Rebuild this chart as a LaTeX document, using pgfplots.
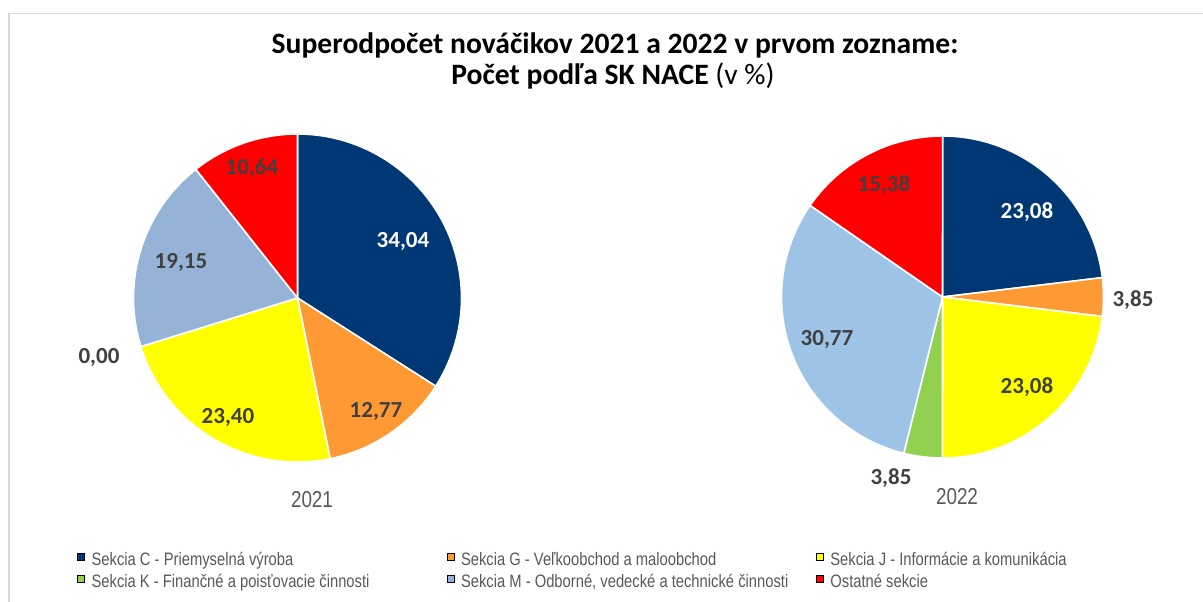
\documentclass[border=0pt]{standalone}
\usepackage{pgfplots}
\pgfplotsset{compat=1.18}
\usepackage{pgfplotstable}
\usepackage{fontspec}
\setmainfont{Carlito}
\newfontfamily\legfont{Liberation Sans}[FakeStretch=0.82]
\definecolor{navyc}{RGB}{0,56,118}
\definecolor{orangec}{RGB}{255,153,51}
\definecolor{yellowc}{RGB}{255,255,0}
\definecolor{greenc}{RGB}{146,208,80}
\definecolor{blueA}{RGB}{149,179,215}
\definecolor{blueB}{RGB}{157,195,230}
\definecolor{redc}{RGB}{255,0,0}
\definecolor{labc}{RGB}{64,64,64}
\definecolor{greyt}{RGB}{89,89,89}
\definecolor{framec}{RGB}{217,217,217}

% 2021 shares (%), clockwise from 12 o'clock
\pgfplotstableread{
val col
34.04 navyc
12.77 orangec
23.40 yellowc
0.00 greenc
19.15 blueA
10.64 redc
}\dataA
% 2022 shares (%)
\pgfplotstableread{
val col
23.08 navyc
3.85 orangec
23.08 yellowc
3.85 greenc
30.77 blueB
15.38 redc
}\dataB
% label positions
\pgfplotstableread{
x y lab
403 360 34,04
1027 390 23,08
}\labW
\pgfplotstableread{
x y lab
376 190 12,77
228 184 23,40
99 244 0,00
181 339 19,15
252 434 10,64
1133 302 3,85
1027 215 23,08
891 124 3,85
827 262 30,77
884 417 15,38
}\labD

\newcommand\drawpie[4]{%
  \def\cum{0}%
  \pgfplotstablegetrowsof{#1}%
  \pgfmathtruncatemacro\nrows{\pgfplotsretval-1}%
  \pgfplotsforeachungrouped \i in {0,...,\nrows}{%
    \pgfplotstablegetelem{\i}{val}\of{#1}\let\v\pgfplotsretval
    \pgfplotstablegetelem{\i}{col}\of{#1}\let\c\pgfplotsretval
    \pgfmathsetmacro\sa{90-3.6*\cum}%
    \pgfmathsetmacro\se{90-3.6*(\cum+\v)}%
    \pgfmathsetmacro\cum{\cum+\v}%
    \ifdim\v pt>0pt
      \edef\doplot{\noexpand\addplot[fill=\c, draw=white, line width=1.6pt, line join=round, domain=\se:\sa, samples=90, forget plot] ({#2+#4*cos(x)},{#3+#4*sin(x)}) -- (axis cs:#2,#3) -- cycle;}%
      \doplot
    \fi
  }%
}

\begin{document}
\begin{tikzpicture}
\useasboundingbox (0,0) rectangle (1203pt,602pt);
\fill[white] (0,0) rectangle (1203pt,602pt);
\draw[framec, line width=1.8pt] (9pt,0) -- (9pt,588.5pt) -- (1203pt,588.5pt);
\begin{axis}[
  x=1pt, y=1pt, xmin=0, xmax=1203, ymin=0, ymax=602,
  scale only axis, hide axis, clip=false,
  at={(0,0)}, anchor=south west,
  legend columns=3,
  legend image code/.code={\fill[#1] (0pt,0.5pt) rectangle (7pt,7.5pt);},
  legend style={at={(axis cs:77,30)}, anchor=west, draw=none, fill=none,
    inner sep=0pt, row sep=5pt,
    font=\legfont\fontsize{18}{20}\selectfont, text=greyt,
    nodes={inner sep=0pt, text height=13pt, text depth=4pt},
    /tikz/every odd column/.append style={column sep=7pt},
    /tikz/every even column/.append style={column sep=0pt}},
  legend cell align=left,
]
\drawpie{\dataA}{297.5}{304}{164}
\drawpie{\dataB}{942.5}{305}{161}

\addplot[draw=none, mark=none, nodes near coords, point meta=explicit symbolic,
  every node near coord/.append style={anchor=center, text=white, font=\bfseries\fontsize{23}{23}\selectfont}, forget plot]
  table[x=x, y=y, meta=lab] {\labW};
\addplot[draw=none, mark=none, nodes near coords, point meta=explicit symbolic,
  every node near coord/.append style={anchor=center, text=labc, font=\bfseries\fontsize{23}{23}\selectfont}, forget plot]
  table[x=x, y=y, meta=lab] {\labD};

\addlegendimage{fill=navyc}
\addlegendentry{\makebox[355pt][l]{Sekcia C - Priemyselná výroba}}
\addlegendimage{fill=orangec}
\addlegendentry{\makebox[355pt][l]{Sekcia G - Veľkoobchod a maloobchod}}
\addlegendimage{fill=yellowc}
\addlegendentry{\makebox[355pt][l]{Sekcia J - Informácie a komunikácia}}
\addlegendimage{fill=greenc}
\addlegendentry{\makebox[355pt][l]{Sekcia K - Finančné a poisťovacie činnosti}}
\addlegendimage{fill=blueA}
\addlegendentry{\makebox[355pt][l]{Sekcia M - Odborné, vedecké a technické činnosti}}
\addlegendimage{fill=redc}
\addlegendentry{\makebox[355pt][l]{Ostatné sekcie}}

\node[anchor=base, font=\bfseries\fontsize{29.6}{29.6}\selectfont] at (axis cs:615,548) {Superodpočet nováčikov 2021 a 2022 v prvom zozname:};
\node[anchor=base, font=\fontsize{29.6}{29.6}\selectfont] at (axis cs:613,517) {\textbf{Počet podľa SK NACE} (v \%)};
\node[anchor=center, text=greyt, font=\legfont\fontsize{23}{23}\selectfont] at (axis cs:312,102) {2021};
\node[anchor=center, text=greyt, font=\legfont\fontsize{23}{23}\selectfont] at (axis cs:957,105) {2022};
\end{axis}
\end{tikzpicture}
\end{document}
